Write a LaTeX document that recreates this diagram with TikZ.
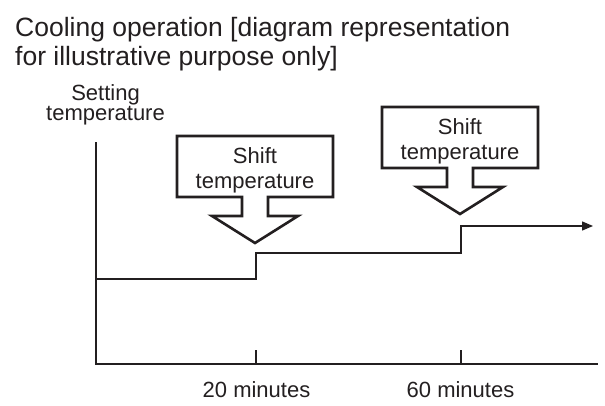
\documentclass[tikz,border=0pt]{standalone}
\usepackage{fontspec}
\setmainfont{Liberation Sans}
\usetikzlibrary{positioning,arrows.meta,calc}
\definecolor{ink}{HTML}{231F20}

\begin{document}
\begin{tikzpicture}[
		x=1pt, y=-1pt,
		every node/.style={
			text=ink,
			inner sep=0pt
		},
		label/.style={
			font=\fontsize{22}{20.5}\selectfont,
			align=center
		},
		shiftbox/.style={
			font=\fontsize{22}{25}\selectfont,
			align=center
		},
		outline/.style={
			draw=ink,
			line width=2.6pt,
			line join=miter
		},
		axis/.style={
			draw=ink,
			line width=2pt
		},
		curve/.style={
			draw=ink,
			line width=1.3pt
		}
		]
		
		\useasboundingbox (0,0) rectangle (605,405);
		
		\node (title) [anchor=north west, align=left,
			font=\fontsize{26.5}{29}\selectfont] at (15,17.5)
			{Cooling operation [diagram representation\\for illustrative purpose only]};
		
		% axes
		\coordinate (top) at (96,142);
		\coordinate (origin) at (96,364);
		\coordinate (right) at (598,364);
		\draw[axis] (top)--(origin)--(right);
		
		\node (ylab) [label, anchor=north] at (105.5,84) {Setting\\temperature};
		
		% ticks
		\coordinate (t1) at (256,364);
		\coordinate (t2) at (461,364);
		\draw[curve, line width=1.1pt] (t1)--++(0,-14);
		\draw[curve, line width=1.1pt] (t2)--++(0,-14);
		\node (m20) [label, anchor=base] at (256.5,397) {20 minutes};
		\node (m60) [label, anchor=base] at (460.5,397) {60 minutes};
		
		% setting temperature
		\coordinate (s0) at (96,279);
		\coordinate (s1) at (256,279);
		\coordinate (s2) at (256,253);
		\coordinate (s3) at (461,253);
		\coordinate (s4) at (461,226);
		\coordinate (s5) at (593,226);
		\draw[curve, -{Triangle[length=11pt,width=9pt]}]
			(s0)--(s1)--(s2)--(s3)--(s4)--(s5);
		
		% shift arrows
		\node (sh1) [shiftbox] at (255,170) {Shift\\temperature};
		\node (sh2) [shiftbox] at (460,141) {Shift\\temperature};
		
		\foreach \n in {sh1,sh2}
			\draw[outline]
				([shift={(-13,27)}]\n.center) -- ([shift={(-78,27)}]\n.center)
				-- ([shift={(-78,-34)}]\n.center) -- ([shift={(78,-34)}]\n.center)
				-- ([shift={(78,27)}]\n.center) -- ([shift={(13,27)}]\n.center)
				-- ([shift={(13,46)}]\n.center) -- ([shift={(43,46)}]\n.center)
				-- ([shift={(0,73)}]\n.center) -- ([shift={(-43,46)}]\n.center)
				-- ([shift={(-13,46)}]\n.center) -- cycle;
		
	\end{tikzpicture}
\end{document}
